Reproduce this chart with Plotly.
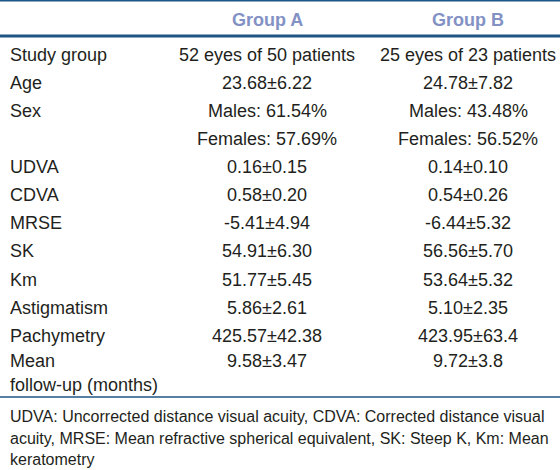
import plotly.graph_objects as go

headers = ["Group A", "Group B"]
row_labels = ["Study group", "Age", "Sex", "", "UDVA", "CDVA", "MRSE", "SK", "Km",
              "Astigmatism", "Pachymetry", "Mean", "follow-up (months)"]
group_a = ["52 eyes of 50 patients", "23.68±6.22", "Males: 61.54%", "Females: 57.69%",
           "0.16±0.15", "0.58±0.20", "-5.41±4.94", "54.91±6.30", "51.77±5.45",
           "5.86±2.61", "425.57±42.38", "9.58±3.47", ""]
group_b = ["25 eyes of 23 patients", "24.78±7.82", "Males: 43.48%", "Females: 56.52%",
           "0.14±0.10", "0.54±0.26", "-6.44±5.32", "56.56±5.70", "53.64±5.32",
           "5.10±2.35", "423.95±63.4", "9.72±3.8", ""]
footnote = ["UDVA: Uncorrected distance visual acuity, CDVA: Corrected distance visual",
            "acuity, MRSE: Mean refractive spherical equivalent, SK: Steep K, Km: Mean",
            "keratometry"]

row_y = [55, 83, 111, 139, 167, 195, 223, 251, 280, 308, 336, 361, 385]
foot_y = [416, 438, 459]
col_x = [8, 267, 468]
header_y = 20

TXT = "#231f20"
HDR = "#8391c4"
LINE = "#1d5686"
FONT = "Liberation Sans, Arial, sans-serif"

fig = go.Figure()
ann = []
for i, h in enumerate(headers):
    ann.append(dict(x=col_x[i + 1], y=header_y, text="<b>%s</b>" % h, xanchor="center",
                    yanchor="middle", showarrow=False, font=dict(size=18, color=HDR, family=FONT)))
for i, lab in enumerate(row_labels):
    y = row_y[i]
    if lab:
        ann.append(dict(x=col_x[0], y=y, text=lab, xanchor="left", yanchor="middle",
                        showarrow=False, font=dict(size=18, color=TXT, family=FONT)))
    for j, vals in enumerate([group_a, group_b]):
        if vals[i]:
            ann.append(dict(x=col_x[j + 1], y=y, text=vals[i], xanchor="center", yanchor="middle",
                            showarrow=False, font=dict(size=18, color=TXT, family=FONT)))
for i, t in enumerate(footnote):
    ann.append(dict(x=col_x[0], y=foot_y[i], text=t, xanchor="left", yanchor="middle",
                    showarrow=False, font=dict(size=16, color=TXT, family=FONT)))

shapes = [
    dict(type="line", x0=0, x1=560, y0=0.7, y1=0.7, line=dict(color=LINE, width=1.5)),
    dict(type="line", x0=0, x1=560, y0=36, y1=36, line=dict(color=LINE, width=3)),
    dict(type="line", x0=0, x1=560, y0=397, y1=397, line=dict(color=LINE, width=1.5)),
]

fig.update_layout(
    width=560, height=470, margin=dict(l=0, r=0, t=0, b=0),
    paper_bgcolor="white", plot_bgcolor="white",
    xaxis=dict(range=[0, 560], visible=False, fixedrange=True),
    yaxis=dict(range=[470, 0], visible=False, fixedrange=True),
    annotations=ann, shapes=shapes, showlegend=False,
)
fig.write_html("out.html", config={"displayModeBar": False},
               post_script="document.body.style.margin='0';document.body.style.overflow='hidden';")
